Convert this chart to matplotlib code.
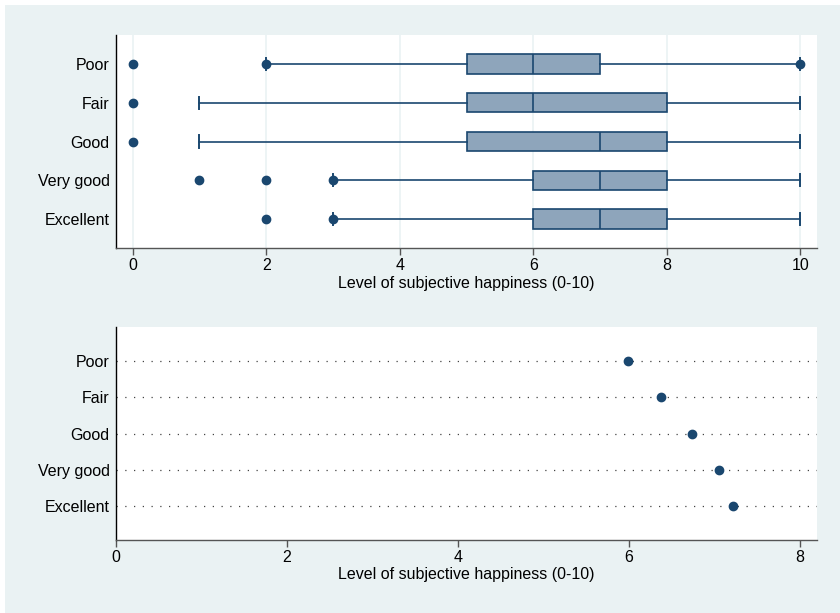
import matplotlib
matplotlib.use("Agg")
import matplotlib.pyplot as plt
from matplotlib.patches import Rectangle

categories = ["Poor", "Fair", "Good", "Very good", "Excellent"]
# box plot statistics (top panel)
whislo = [2, 1, 1, 3, 3]
q1 = [5, 5, 5, 6, 6]
med = [6, 6, 7, 7, 7]
q3 = [7, 8, 8, 8, 8]
whishi = [10, 10, 10, 10, 10]
fliers = [[0, 2, 10], [0], [0], [1, 2, 3], [2, 3]]
# mean happiness (bottom panel)
means = [5.99, 6.37, 6.74, 7.05, 7.22]

top_ticks = [0, 2, 4, 6, 8, 10]
bot_ticks = [0, 2, 4, 6, 8]
xlabel = "Level of subjective happiness (0-10)"

navy = "#1A476F"
fill = "#8EA5BB"
bg = "#EAF2F3"

plt.rcParams['font.family'] = ['Liberation Sans', 'DejaVu Sans']
plt.rcParams['font.size'] = 11.5

fig = plt.figure(figsize=(8.4, 6.13), dpi=100, facecolor="white")
fig.patches.append(Rectangle((5 / 840, 0), 1, 1 - 5 / 613, transform=fig.transFigure,
                             facecolor=bg, edgecolor="none", zorder=-10))

W, H = 840, 613
def axrect(l, r, t, b):
    return [l / W, 1 - b / H, (r - l) / W, (b - t) / H]

# ---------- top panel ----------
ax1 = fig.add_axes(axrect(116, 817, 35, 248))
ax1.set_facecolor("white")
n = len(categories)
pos = list(range(n, 0, -1))
stats = []
for i in range(n):
    stats.append(dict(label=categories[i], whislo=whislo[i], q1=q1[i], med=med[i],
                      q3=q3[i], whishi=whishi[i], fliers=fliers[i]))
ax1.bxp(stats, positions=pos, vert=False, widths=0.5, patch_artist=True,
        boxprops=dict(facecolor=fill, edgecolor=navy, linewidth=1.2),
        medianprops=dict(color=navy, linewidth=1.2),
        whiskerprops=dict(color=navy, linewidth=1.2),
        capprops=dict(color=navy, linewidth=1.4),
        capwidths=0.32,
        flierprops=dict(marker="o", markerfacecolor=navy, markeredgecolor=navy,
                        markersize=6),
        zorder=3)
ax1.set_xlim(-0.25, 10.25)
ax1.set_ylim(0.25, 5.75)
ax1.set_xticks(top_ticks)
ax1.set_xticklabels([str(t) for t in top_ticks])
ax1.set_yticks(pos)
ax1.set_yticklabels(categories)
for t in top_ticks:
    ax1.axvline(t, color=bg, linewidth=1.2, zorder=1)
ax1.set_xlabel(xlabel, labelpad=2)

# ---------- bottom panel ----------
ax2 = fig.add_axes(axrect(116, 817, 326.7, 540))
ax2.set_facecolor("white")
for p in pos:
    ax2.axhline(p, color="#444444", linewidth=0.9, linestyle=(0, (1, 6)), zorder=1)
ax2.plot(means, pos, linestyle="none", marker="o", markersize=6,
         markerfacecolor=navy, markeredgecolor=navy, zorder=3)
ax2.set_xlim(0, 8.2)
ax2.set_ylim(0.07, 5.94)
ax2.set_xticks(bot_ticks)
ax2.set_xticklabels([str(t) for t in bot_ticks])
ax2.set_yticks(pos)
ax2.set_yticklabels(categories)
ax2.set_xlabel(xlabel, labelpad=2)

for ax in (ax1, ax2):
    ax.spines["top"].set_visible(False)
    ax.spines["right"].set_visible(False)
    ax.spines["left"].set_color("black")
    ax.spines["left"].set_linewidth(1.0)
    ax.spines["bottom"].set_color("#555555")
    ax.spines["bottom"].set_linewidth(1.0)
    ax.tick_params(axis="y", length=0, pad=4.5, labelsize=11.5, colors="black")
    ax.tick_params(axis="x", length=5, width=1.0, color="#555555", pad=2,
                   labelsize=11.5, labelcolor="black")

fig.savefig("out.png", dpi=100, facecolor=fig.get_facecolor())
